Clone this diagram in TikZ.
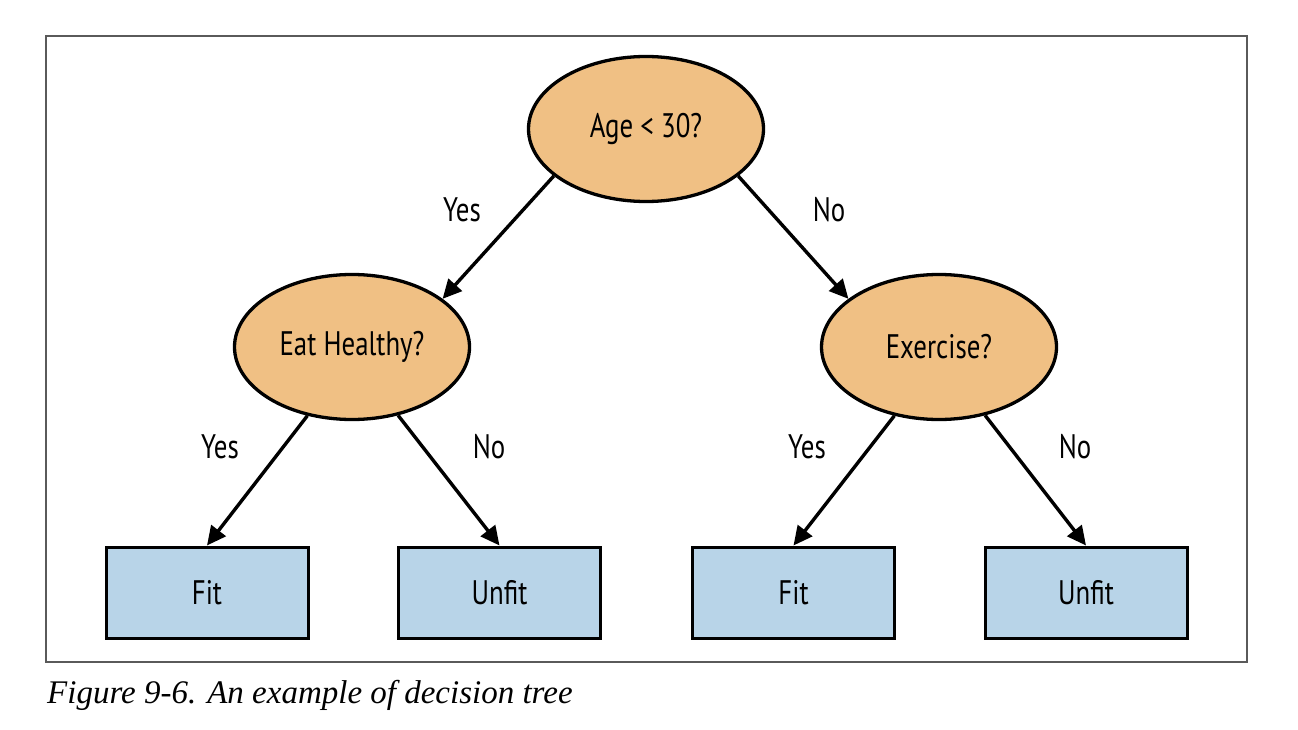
\documentclass[tikz,border=0pt]{standalone}
\usepackage{fontspec}
\setsansfont{PT Sans}[FakeStretch=0.79]
\newfontfamily\capfont{Liberation Serif}
\usetikzlibrary{shapes.geometric,arrows.meta}
\definecolor{nodeorange}{RGB}{240,192,132}
\definecolor{leafblue}{RGB}{184,212,232}
\definecolor{framegray}{RGB}{90,90,90}
\tikzset{
  decision/.style={ellipse, draw=black, line width=3.3pt, fill=nodeorange,
    minimum width=235pt, minimum height=145pt, inner sep=0pt,
    font=\sffamily\fontsize{34}{38}\selectfont},
  leaf/.style={rectangle, draw=black, line width=3pt, fill=leafblue,
    minimum width=202pt, minimum height=91pt, inner sep=0pt,
    font=\sffamily\fontsize{34}{38}\selectfont},
  edge/.style={line width=3.4pt, -{Triangle[length=19pt,width=18pt]}},
  elabel/.style={font=\sffamily\fontsize{34}{38}\selectfont, inner sep=0pt},
}
\begin{document}
\begin{tikzpicture}[x=1pt,y=-1pt]
\useasboundingbox (0,0) rectangle (1298,730);
\fill[white] (0,0) rectangle (1298,730);
\draw[framegray, line width=1.2pt] (46,36) rectangle (1247,662);

\node[decision] (root) at (646,129) {Age < 30?};
\node[decision] (eat) at (352,347) {Eat Healthy?};
\node[decision] (ex) at (939,347) {Exercise?};

\node[leaf] (fit1) at (207,592.5) {Fit};
\node[leaf] (unfit1) at (499.5,592.5) {Unfit};
\node[leaf] (fit2) at (793.5,592.5) {Fit};
\node[leaf] (unfit2) at (1086,592.5) {Unfit};

\draw[edge] (root.207) -- (eat.28);
\draw[edge] (root.-27) -- (ex.152);
\draw[edge] (eat.237) -- (fit1.north);
\draw[edge] (eat.304) -- (unfit1.north);
\draw[edge] (ex.237) -- (fit2.north);
\draw[edge] (ex.304) -- (unfit2.north);

\node[elabel] (l1) at (462,210) {Yes};
\node[elabel] (l2) at (829,210) {No};
\node[elabel] (l3) at (220,447) {Yes};
\node[elabel] (l4) at (489,447) {No};
\node[elabel] (l5) at (807,447) {Yes};
\node[elabel] (l6) at (1075,447) {No};

\node[anchor=base west, inner sep=0pt, font=\capfont\itshape\fontsize{33}{37}\selectfont] (cap) at (47,703) {Figure 9-6. An example of decision tree};
\end{tikzpicture}
\end{document}
